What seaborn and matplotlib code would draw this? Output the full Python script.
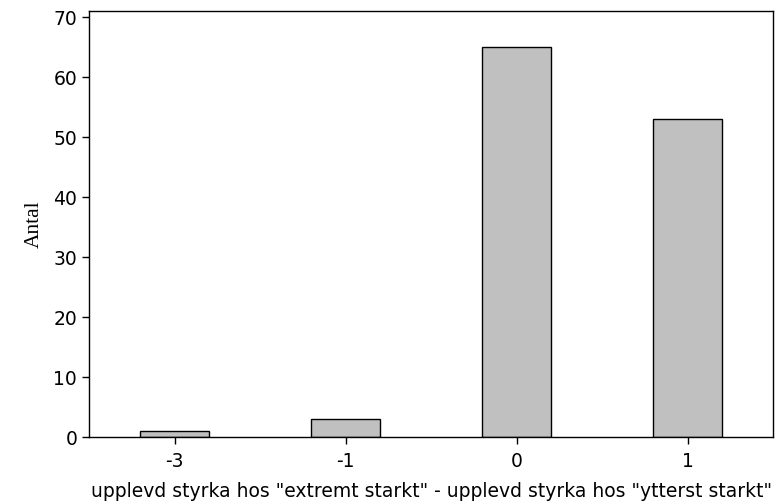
import pandas as pd
import seaborn as sns
import matplotlib.pyplot as plt

# data
kategorier = ["-3", "-1", "0", "1"]
antal = [1, 3, 65, 53]

df = pd.DataFrame({"diff": kategorier, "antal": antal})

sns.set_theme(style="white")
plt.rcParams["font.family"] = ["DejaVu Sans"]

fig = plt.figure(figsize=(7.81, 5.03), dpi=100)
ax = fig.add_axes([0.114, 0.131, 0.876, 0.847])

sns.barplot(data=df, x="diff", y="antal", order=kategorier, color="#c0c0c0",
            edgecolor="black", linewidth=1, width=0.4, saturation=1, ax=ax)

ax.set_ylim(0, 71)
ax.set_yticks(range(0, 71, 10))
ax.set_xlim(-0.5, 3.5)
ax.set_xlabel('upplevd styrka hos "extremt starkt" - upplevd styrka hos "ytterst starkt"',
              fontsize=13.5, labelpad=8, color="black")
ax.set_ylabel("Antal", fontsize=15.5, family="Liberation Serif", labelpad=7, color="black")
ax.tick_params(axis="both", which="both", direction="out", length=5, width=1,
               color="black", labelcolor="black", labelsize=13.5, bottom=True, left=True)
ax.tick_params(axis="x", pad=6)

for s in ax.spines.values():
    s.set_color("black")
    s.set_linewidth(1)

plt.savefig("out.png", dpi=100)
plt.close()
